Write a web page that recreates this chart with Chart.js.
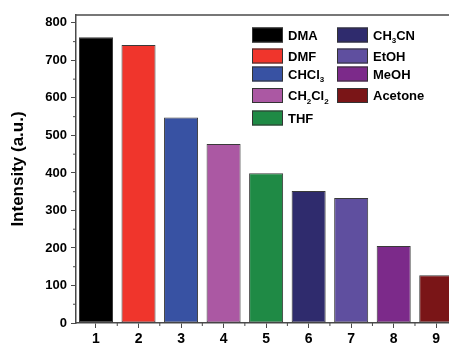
<!DOCTYPE html>
<html>
<head>
<meta charset="utf-8">
<script src="https://cdn.jsdelivr.net/npm/chart.js@4/dist/chart.umd.min.js"></script>
<style>
  html, body { margin: 0; padding: 0; background: #fff; }
  #wrap { width: 449px; height: 344px; }
</style>
</head>
<body>
<div id="wrap"><canvas id="barChart" width="449" height="344"></canvas></div>
<script>
'use strict'

// solvents, one bar each
var solvents = ['DMA', 'DMF', 'CHCl3', 'CH2Cl2', 'THF', 'CH3CN', 'EtOH', 'MeOH', 'Acetone'];
var positions = [1, 2, 3, 4, 5, 6, 7, 8, 9];
var intensity = [762, 741, 548, 477, 399, 352, 333, 205, 127];
var colors = ['#000000', '#f0352c', '#3852a3', '#ab58a3', '#1f8a45', '#2f2b6d', '#5f4f9f', '#7c2a8a', '#7a1517'];
var yTicks = [0, 100, 200, 300, 400, 500, 600, 700, 800];
var xTicks = [1, 2, 3, 4, 5, 6, 7, 8, 9];

var axisColor = '#4a4a4a';
var fontBold = 'bold 13px "Liberation Sans", Arial, sans-serif';

// draw "CH2Cl2" with the digits as subscripts
function drawFormula(ctx, text, x, y) {
  var parts = text.match(/\d+|\D+/g);
  parts.forEach(function(p) {
    if (/\d/.test(p)) {
      ctx.font = 'bold 8px "Liberation Sans", Arial, sans-serif';
      ctx.fillText(p, x, y + 5);
    } else {
      ctx.font = fontBold;
      ctx.fillText(p, x, y);
    }
    x += ctx.measureText(p).width;
  });
}

var legendPlugin = {
  id: 'solventLegend',
  afterDraw: function(chart) {
    var ctx = chart.ctx;
    var a = chart.chartArea;
    var rowY = [35, 56, 74, 95.5, 118];
    ctx.save();
    ctx.textBaseline = 'middle';
    solvents.forEach(function(name, i) {
      var col = i < 5 ? 0 : 1;
      var row = i < 5 ? i : i - 5;
      var sx = a.left + 176 + col * 85;
      var sy = rowY[row];
      ctx.fillStyle = colors[i];
      ctx.fillRect(sx, sy - 7.5, 31, 15);
      ctx.strokeStyle = '#333';
      ctx.lineWidth = 1;
      ctx.strokeRect(sx + 0.5, sy - 7, 30, 14);
      ctx.fillStyle = '#000';
      drawFormula(ctx, name, sx + 36, sy + 1);
    });
    ctx.restore();
  }
};

var frameTicksPlugin = {
  id: 'frameTicks',
  afterDraw: function(chart) {
    var ctx = chart.ctx;
    var a = chart.chartArea;
    var ys = chart.scales.y;
    var xs = chart.scales.x;
    ctx.save();
    ctx.strokeStyle = axisColor;
    ctx.lineWidth = 1.5;
    ctx.beginPath();
    ctx.moveTo(a.left, a.top);
    ctx.lineTo(a.right, a.top);
    ctx.stroke();
    // minor ticks
    ctx.lineWidth = 1;
    ctx.beginPath();
    for (var i = 0; i < yTicks.length - 1; i++) {
      var py = ys.getPixelForValue((yTicks[i] + yTicks[i + 1]) / 2);
      ctx.moveTo(a.left, py);
      ctx.lineTo(a.left - 3, py);
    }
    for (var j = 0; j < xTicks.length - 1; j++) {
      var px = xs.getPixelForValue((xTicks[j] + xTicks[j + 1]) / 2);
      ctx.moveTo(px, a.bottom);
      ctx.lineTo(px, a.bottom + 3);
    }
    ctx.stroke();
    ctx.restore();
  }
};

var chart = new Chart(document.getElementById('barChart'), {
  type: 'bar',
  data: {
    datasets: [{
      data: positions.map(function(p, i) { return { x: p, y: intensity[i] }; }),
      backgroundColor: colors,
      borderColor: '#3a3a3a',
      borderWidth: 1,
      borderSkipped: false,
      barPercentage: 0.8,
      categoryPercentage: 1
    }]
  },
  options: {
    responsive: false,
    animation: false,
    layout: { padding: { top: 15, right: 0, left: 0, bottom: 0 } },
    plugins: { legend: { display: false }, tooltip: { enabled: false } },
    scales: {
      x: {
        type: 'linear',
        offset: false,
        min: 0.53,
        max: 9.3,
        afterBuildTicks: function(s) { s.ticks = xTicks.map(function(v) { return { value: v }; }); },
        afterFit: function(s) { s.height = 21; s.paddingRight = 0; },
        grid: { drawOnChartArea: false, offset: false, tickLength: 5, tickColor: axisColor },
        border: { color: axisColor, width: 1.5 },
        ticks: {
          color: '#000',
          padding: 3,
          maxRotation: 0,
          font: { family: '"Liberation Sans", Arial, sans-serif', size: 14, weight: 'bold' }
        }
      },
      y: {
        min: 0,
        max: 821,
        afterBuildTicks: function(s) { s.ticks = yTicks.map(function(v) { return { value: v }; }); },
        afterFit: function(s) { s.width = 76; },
        grid: { drawOnChartArea: false, tickLength: 5, tickColor: axisColor },
        border: { color: axisColor, width: 1.5 },
        ticks: {
          color: '#000',
          padding: 4,
          font: { family: '"Liberation Sans", Arial, sans-serif', size: 13, weight: 'bold' }
        },
        title: {
          display: true,
          text: 'Intensity (a.u.)',
          color: '#000',
          padding: { top: 8, bottom: 0 },
          font: { family: '"Liberation Sans", Arial, sans-serif', size: 17, weight: 'bold' }
        }
      }
    }
  },
  plugins: [legendPlugin, frameTicksPlugin]
});
</script>
</body>
</html>
